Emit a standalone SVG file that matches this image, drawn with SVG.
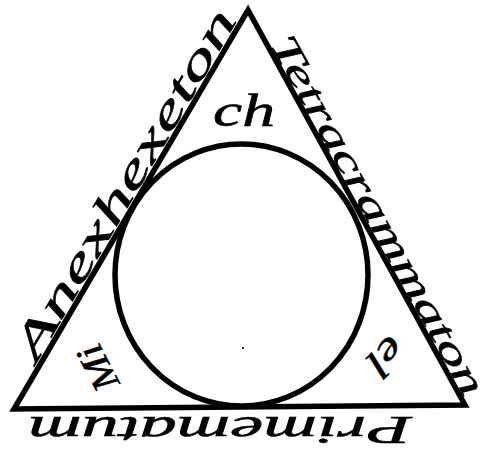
<svg xmlns="http://www.w3.org/2000/svg" width="481" height="467" viewBox="0 0 481 467">
<style>
.ln{fill:none;stroke:#000;stroke-width:5.5;stroke-linejoin:miter}
.t{font-family:"Liberation Serif","DejaVu Serif",serif;font-style:italic;fill:#000;stroke:#000;stroke-width:0.6}
</style>
<rect width="481" height="467" fill="#fff"/>
<g id="triangle"><path class="ln" d="M248,10 L465,405 L14,409 Z"/></g>
<g id="circle"><ellipse class="ln" cx="241.5" cy="275" rx="126.5" ry="131" stroke-width="5"/></g>
<g id="dot"><circle cx="243" cy="348" r="1.1" fill="#000"/></g>
<g id="side-left"><text class="t" transform="translate(36.4,363) rotate(-59.6)" font-size="44" textLength="398" lengthAdjust="spacingAndGlyphs">Anexhexeton</text></g>
<g id="side-right"><text class="t" transform="translate(269.6,43.6) rotate(61.2)" font-size="38" textLength="405" lengthAdjust="spacingAndGlyphs">Tetracrammaton</text></g>
<g id="side-bottom"><text class="t" transform="translate(412,417) rotate(180)" font-size="40" textLength="384" lengthAdjust="spacingAndGlyphs">Primematum</text></g>
<g id="inner-top"><text class="t" x="244" y="126" font-size="46" text-anchor="middle" textLength="62" lengthAdjust="spacingAndGlyphs">ch</text></g>
<g id="inner-left"><text class="t" transform="translate(98,368) rotate(-118)" y="12.5" font-size="38" text-anchor="middle" textLength="48" lengthAdjust="spacingAndGlyphs">Mi</text></g>
<g id="inner-right"><text class="t" transform="translate(385,356) rotate(135)" y="12" font-size="40" text-anchor="middle" textLength="38" lengthAdjust="spacingAndGlyphs">el</text></g>
<g id="connectors"/>
</svg>
